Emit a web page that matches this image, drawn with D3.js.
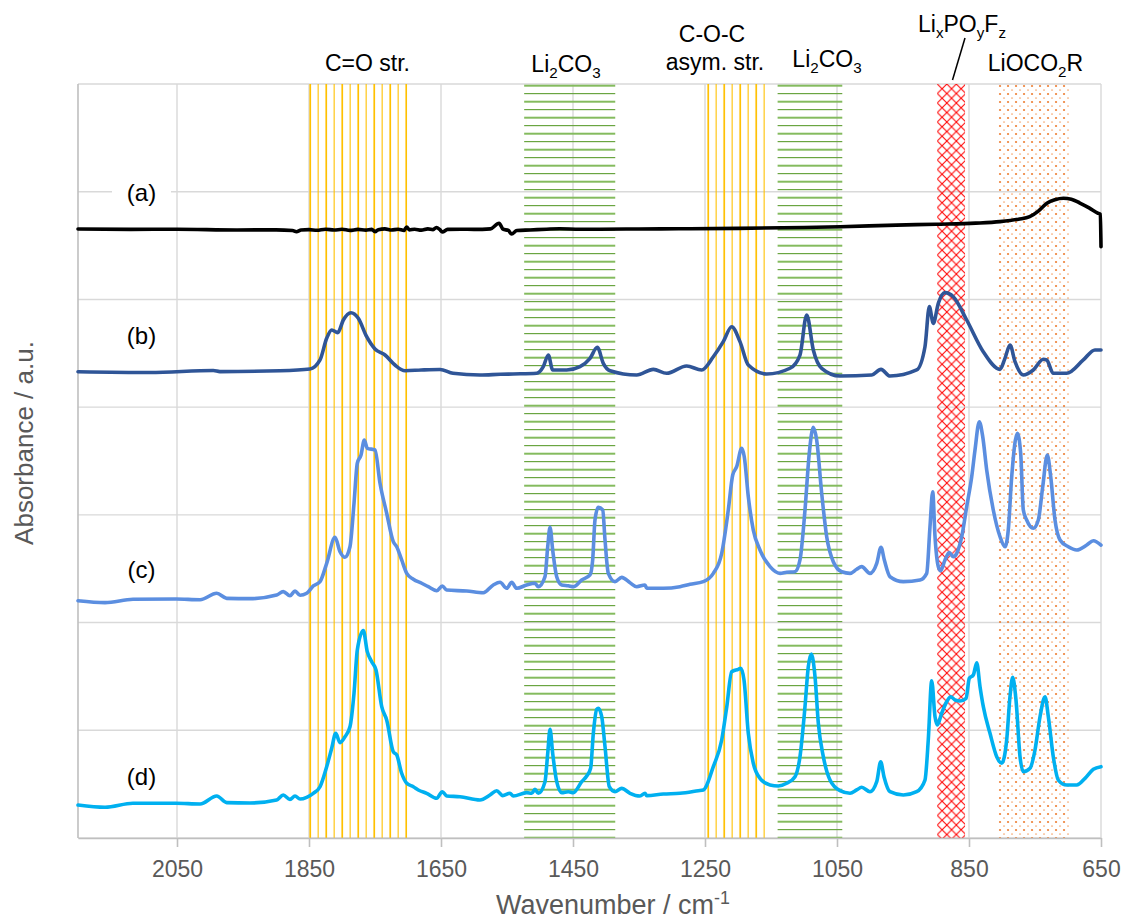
<!DOCTYPE html>
<html>
<head>
<meta charset="utf-8">
<script src="https://cdn.jsdelivr.net/npm/d3@7"></script>
<style>
  body { margin: 0; background: #fff; }
  text { font-family: "Liberation Sans", Arial, Helvetica, sans-serif; }
</style>
</head>
<body>
<div id="chart"></div>
<script>
// ---- data (wavenumber / cm-1, absorbance in grid units) ----
const xTicks = [2050, 1850, 1650, 1450, 1250, 1050, 850, 650];
const yGrid = [0, 1, 2, 3, 4, 5, 6, 7];
const seriesNames = ["(a)", "(b)", "(c)", "(d)"];
const seriesColors = ["#000000", "#2f5597", "#5b8ee0", "#00b0f0"];

const spectrumA = [[2200,5.654],[2120,5.650],[2050,5.652],[1960,5.645],[1900,5.646],[1875,5.640],[1869,5.629],[1862,5.645],
  [1850,5.648],[1838,5.642],[1825,5.652],[1812,5.644],[1800,5.651],[1788,5.641],[1776,5.650],[1764,5.643],[1755,5.650],
  [1750,5.628],[1745,5.648],[1735,5.655],[1725,5.644],[1715,5.652],[1706,5.641],[1702,5.673],[1698,5.645],[1690,5.652],
  [1680,5.643],[1670,5.655],[1662,5.648],[1657,5.668],[1652,5.650],[1648,5.626],[1640,5.650],[1620,5.652],[1600,5.650],
  [1575,5.655],[1562,5.707],[1556,5.652],[1548,5.640],[1543,5.608],[1535,5.640],[1515,5.645],[1490,5.652],[1470,5.656],
  [1440,5.652],[1410,5.652],[1350,5.654],[1290,5.656],[1200,5.660],[1100,5.668],[1045,5.675],[960,5.690],[900,5.698],
  [840,5.708],[803,5.722],[775,5.745],[758,5.768],[745,5.820],[732,5.893],[720,5.925],[707,5.939],[695,5.930],
  [682,5.895],[668,5.850],[655,5.802],[651,5.790],[650,5.490]];

const spectrumB = [[2200,4.329],[2091,4.322],[1995,4.340],[1985,4.330],[1894,4.338],[1848.5,4.354],[1833.3,4.438],
  [1823.2,4.639],[1815.6,4.716],[1806.5,4.691],[1798,4.809],[1786.4,4.877],[1775.3,4.825],[1762.6,4.654],[1750,4.540],
  [1734.8,4.484],[1719.7,4.391],[1704.5,4.338],[1680,4.345],[1651.5,4.350],[1631.8,4.314],[1590.9,4.298],[1560,4.305],
  [1540.9,4.308],[1505,4.314],[1495,4.376],[1487.4,4.484],[1480.8,4.345],[1459.6,4.345],[1439.4,4.376],[1424.2,4.453],
  [1413.2,4.556],[1404.1,4.407],[1393.9,4.338],[1353.5,4.298],[1328.3,4.351],[1308.1,4.314],[1277.8,4.382],[1255,4.345],
  [1237.4,4.468],[1222.3,4.608],[1209.6,4.747],[1197,4.608],[1184.4,4.391],[1156.5,4.308],[1121.2,4.361],[1106.1,4.484],
  [1095.9,4.856],[1085.9,4.531],[1073.2,4.361],[1045.5,4.289],[997.4,4.298],[983.3,4.351],[969.7,4.289],[929.3,4.345],
  [916.7,4.561],[910.1,4.933],[904.1,4.778],[896.5,4.964],[886.4,5.063],[873.8,5.025],[853.5,4.809],[828.4,4.515],
  [803,4.351],[795.5,4.453],[787.9,4.577],[780.3,4.422],[767.8,4.298],[752.6,4.345],[737.4,4.444],[732.3,4.438],
  [722.3,4.314],[702,4.314],[676.8,4.438],[659.1,4.531],[650,4.531]];

const spectrumC = [[2200,2.203],[2159,2.185],[2116.7,2.216],[2051.5,2.219],[2015,2.212],[1989.8,2.272],[1974.7,2.225],
  [1939.4,2.222],[1899,2.256],[1889,2.287],[1878.8,2.249],[1871.2,2.293],[1863.6,2.253],[1853.5,2.272],[1843.5,2.340],
  [1833.3,2.380],[1823.2,2.550],[1810.6,2.792],[1803,2.658],[1795.5,2.606],[1787.9,2.704],[1781.8,3.107],[1776.8,3.479],
  [1771.2,3.556],[1766.2,3.695],[1761.7,3.618],[1750,3.602],[1742.4,3.293],[1732.3,3.015],[1722.3,2.751],[1717.1,2.704],
  [1709.6,2.581],[1701.9,2.457],[1691.9,2.402],[1679.2,2.365],[1669.2,2.333],[1656.5,2.296],[1648,2.340],[1641.4,2.302],
  [1611.1,2.293],[1585.9,2.277],[1570.8,2.349],[1560.6,2.374],[1550.5,2.318],[1542.9,2.374],[1535.3,2.318],[1520.2,2.349],
  [1507.6,2.365],[1502.6,2.333],[1492.4,2.426],[1488.3,2.704],[1484.8,2.885],[1480.8,2.674],[1474.7,2.426],[1467.1,2.349],
  [1457.1,2.342],[1449.5,2.333],[1436.8,2.395],[1424.2,2.442],[1420.2,2.581],[1416.7,2.952],[1411.7,3.070],[1405,3.045],
  [1401.5,2.767],[1396.5,2.457],[1386.4,2.380],[1376.2,2.420],[1363.6,2.370],[1353.5,2.333],[1340.9,2.349],[1338.3,2.318],
  [1313.2,2.318],[1287.9,2.333],[1272.7,2.355],[1252.6,2.380],[1237.4,2.457],[1224.7,2.643],[1214.7,3.045],[1208,3.370],
  [1202,3.447],[1194.4,3.618],[1190.5,3.540],[1184.4,3.169],[1176.8,2.859],[1166.7,2.674],[1151.5,2.519],[1136.4,2.457],
  [1126.2,2.467],[1113.6,2.472],[1106.1,2.581],[1098.5,3.045],[1092,3.572],[1085.9,3.813],[1080.8,3.695],[1073.2,3.200],
  [1065.6,2.797],[1055.6,2.565],[1042.9,2.472],[1030.3,2.457],[1020.2,2.495],[1012.6,2.519],[1000,2.457],[989.8,2.550],
  [983.3,2.699],[978.3,2.581],[969.7,2.426],[949.5,2.380],[924.2,2.395],[914.1,2.457],[909.1,2.890],[905,3.215],
  [901.5,2.797],[896.5,2.519],[892.9,2.482],[886.4,2.581],[879.8,2.649],[873.8,2.612],[868.6,2.643],[861,2.797],
  [853.5,3.076],[845.9,3.354],[840.9,3.602],[834.4,3.865],[829.2,3.726],[823.2,3.417],[813.2,3.045],[803,2.797],
  [795.5,2.704],[790.5,2.859],[785.3,3.354],[776.8,3.757],[771.7,3.572],[767.7,3.045],[762.6,2.952],[752.6,2.875],
  [745,2.952],[738.3,3.261],[731.4,3.556],[726.2,3.354],[719.7,2.952],[712.1,2.767],[699.5,2.704],[686.8,2.674],
  [671.6,2.720],[661.6,2.760],[650,2.720]];

const spectrumD = [[2200,0.306],[2159,0.285],[2116.7,0.322],[2051.5,0.322],[2015,0.316],[1989.8,0.390],[1974.7,0.328],
  [1939.4,0.325],[1899,0.353],[1889,0.399],[1878.8,0.359],[1871.2,0.390],[1863.6,0.362],[1853.5,0.378],[1843.5,0.415],
  [1833.3,0.476],[1823.2,0.662],[1815.6,0.833],[1809.5,0.972],[1803,0.885],[1795.5,0.940],[1787.9,1.033],[1781.8,1.343],
  [1776.8,1.745],[1767.7,1.925],[1761.7,1.730],[1755,1.637],[1748.5,1.560],[1739.8,1.219],[1732.3,1.096],[1722.3,0.801],
  [1717.1,0.771],[1709.6,0.601],[1701.9,0.508],[1691.9,0.476],[1684.4,0.446],[1671.7,0.415],[1656.5,0.369],[1648,0.430],
  [1641.4,0.390],[1621.2,0.383],[1590.9,0.353],[1575.8,0.399],[1565.6,0.439],[1556.5,0.393],[1545.5,0.415],[1540.5,0.390],
  [1520.2,0.421],[1512.6,0.415],[1507.6,0.452],[1502.6,0.415],[1492.4,0.523],[1488.3,0.786],[1484.8,1.009],[1480.8,0.786],
  [1474.7,0.523],[1467.1,0.421],[1457.1,0.430],[1449.5,0.421],[1436.8,0.523],[1429.2,0.576],[1423.3,0.647],[1419.2,0.972],
  [1414.1,1.195],[1411.7,1.204],[1406.5,1.126],[1401.5,0.848],[1395,0.476],[1386.4,0.430],[1376.2,0.461],[1363.6,0.415],
  [1348.5,0.390],[1340.9,0.415],[1338.3,0.393],[1313.2,0.408],[1287.9,0.415],[1260.2,0.439],[1252.6,0.446],[1237.4,0.662],
  [1224.7,0.910],[1217,1.219],[1209.6,1.544],[1199.5,1.566],[1195.9,1.575],[1190.9,1.467],[1184.4,0.972],[1176.8,0.694],
  [1166.7,0.554],[1151.5,0.492],[1138.9,0.483],[1126.2,0.508],[1113.6,0.569],[1106.1,0.755],[1098.5,1.219],[1093.5,1.590],
  [1089,1.708],[1083.3,1.497],[1078.3,1.065],[1070.7,0.755],[1060.6,0.538],[1045.5,0.439],[1030.3,0.415],[1020.2,0.446],
  [1012.6,0.471],[1000,0.430],[989.8,0.523],[983.8,0.708],[978.8,0.569],[969.7,0.430],[949.5,0.399],[929.3,0.430],
  [916.7,0.538],[911.7,0.910],[906.5,1.460],[901.5,1.126],[898,1.049],[891.4,1.158],[883.8,1.265],[877.7,1.312],
  [871.2,1.281],[863.6,1.272],[854.5,1.297],[849.5,1.483],[843.5,1.513],[838.3,1.627],[833.3,1.405],[828.3,1.219],
  [818.2,0.972],[808,0.755],[800.4,0.694],[792.9,0.910],[787.9,1.312],[783.8,1.492],[778.8,1.281],[772.7,0.755],
  [767.7,0.616],[757.6,0.647],[750,0.817],[742.4,1.126],[734.8,1.312],[729.8,1.126],[722.3,0.755],[714.7,0.538],
  [702,0.492],[686.8,0.492],[674.2,0.554],[661.6,0.638],[650,0.662]];

const spectra = [spectrumA, spectrumB, spectrumC, spectrumD];

// highlighted bands (wavenumber from, to) and their fill pattern kind
const bandRanges = [[1850, 1701], [1524, 1386], [1247, 1155], [1140, 1042], [898, 856], [806, 698]];
const bandFills = ["vlines", "hlines", "vlines", "hlines", "cross", "dots"];

// ---- layout ----
const W = 1125, H = 921;
const plot = { left: 78, right: 1101, top: 84, bottom: 838 };

const x = d3.scaleLinear().domain([2200, 650]).range([plot.left, plot.right]);
const y = d3.scaleLinear().domain([0, 7]).range([plot.bottom, plot.top]);

const svg = d3.select("#chart").append("svg")
  .attr("width", W).attr("height", H);

const defs = svg.append("defs");

// pattern builders
function makePattern(id, kind, x0) {
  if (kind === "vlines") {
    const p = defs.append("pattern").attr("id", id).attr("patternUnits", "userSpaceOnUse")
      .attr("x", x0).attr("y", 0).attr("width", 16).attr("height", 10);
    p.append("rect").attr("x", 0.4).attr("y", 0).attr("width", 1.7).attr("height", 10).attr("fill", "#ffc000");
    p.append("rect").attr("x", 8.6).attr("y", 0).attr("width", 1.1).attr("height", 10).attr("fill", "#ffc000");
  } else if (kind === "hlines") {
    const p = defs.append("pattern").attr("id", id).attr("patternUnits", "userSpaceOnUse")
      .attr("x", x0).attr("y", plot.top).attr("width", 10).attr("height", 16);
    p.append("rect").attr("x", 0).attr("y", 0.7).attr("width", 10).attr("height", 2).attr("fill", "#84bb5e");
    p.append("rect").attr("x", 0).attr("y", 9.0).attr("width", 10).attr("height", 1.2).attr("fill", "#6aa541");
  } else if (kind === "cross") {
    const p = defs.append("pattern").attr("id", id).attr("patternUnits", "userSpaceOnUse")
      .attr("x", x0).attr("y", plot.top).attr("width", 9.5).attr("height", 9.5);
    p.append("path").attr("d", "M0,0L9.5,9.5M9.5,0L0,9.5")
      .attr("stroke", "#ff0000").attr("stroke-width", 1.05).attr("fill", "none");
  } else if (kind === "dots") {
    const p = defs.append("pattern").attr("id", id).attr("patternUnits", "userSpaceOnUse")
      .attr("x", x0).attr("y", plot.top).attr("width", 8).attr("height", 8);
    p.append("circle").attr("cx", 2).attr("cy", 2).attr("r", 1.1).attr("fill", "#ed7d31");
    p.append("circle").attr("cx", 6).attr("cy", 6).attr("r", 0.85).attr("fill", "#f4a46a");
  }
}

// gridlines
const grid = svg.append("g").attr("class", "grid");
grid.selectAll("line.v").data(xTicks).enter().append("line")
  .attr("class", "v")
  .attr("x1", d => x(d)).attr("x2", d => x(d))
  .attr("y1", plot.top).attr("y2", plot.bottom)
  .attr("stroke", "#d9d9d9").attr("stroke-width", 1.4);
grid.selectAll("line.h").data(yGrid).enter().append("line")
  .attr("class", "h")
  .attr("x1", plot.left).attr("x2", plot.right)
  .attr("y1", d => y(d)).attr("y2", d => y(d))
  .attr("stroke", "#d9d9d9").attr("stroke-width", 1.4);

// bands
const bands = svg.append("g").attr("class", "bands");
bandRanges.forEach((r, i) => {
  const x0 = x(r[0]), x1 = x(r[1]);
  makePattern("pat" + i, bandFills[i], x0);
  bands.append("rect")
    .attr("x", x0).attr("y", plot.top)
    .attr("width", x1 - x0).attr("height", plot.bottom - plot.top)
    .attr("fill", "url(#pat" + i + ")");
});

// axes
svg.append("line")
  .attr("x1", plot.left).attr("x2", plot.left)
  .attr("y1", plot.top).attr("y2", plot.bottom)
  .attr("stroke", "#bfbfbf").attr("stroke-width", 1.6);

const xAxis = svg.append("g")
  .attr("transform", "translate(0," + plot.bottom + ")")
  .call(d3.axisBottom(x).tickValues(xTicks).tickFormat(d3.format("d"))
    .tickSize(9).tickSizeOuter(0).tickPadding(14));
xAxis.select(".domain").attr("stroke", "#bfbfbf").attr("stroke-width", 1.6);
xAxis.selectAll(".tick line").attr("stroke", "#bfbfbf").attr("stroke-width", 1.6);
xAxis.selectAll(".tick text")
  .attr("fill", "#595959")
  .style("font-size", "23px")
  .style("font-family", "'Liberation Sans', Arial, sans-serif");

// spectra
const line = d3.line()
  .x(d => x(d[0]))
  .y(d => y(d[1]))
  .curve(d3.curveMonotoneX);

svg.append("g").attr("class", "spectra")
  .selectAll("path").data(spectra).enter().append("path")
  .attr("d", line)
  .attr("fill", "none")
  .attr("stroke", (d, i) => seriesColors[i])
  .attr("stroke-width", 3.6)
  .attr("stroke-linejoin", "round")
  .attr("stroke-linecap", "round");

// series labels
const labelY = [201, 344, 578, 785];
const labels = svg.append("g").attr("class", "series-labels");
labels.append("rect")
  .attr("x", 112).attr("y", 180).attr("width", 59).attr("height", 27)
  .attr("fill", "#fff");
labels.selectAll("text").data(seriesNames).enter().append("text")
  .attr("x", 141.5).attr("y", (d, i) => labelY[i])
  .attr("text-anchor", "middle")
  .style("font-size", "24px")
  .attr("fill", "#000")
  .text(d => d);

// rich text helper (normal / sub / sup pieces)
function richText(parent, parts, cx, baseY, size, fill) {
  const t = parent.append("text")
    .attr("x", cx).attr("y", baseY)
    .attr("text-anchor", "middle")
    .style("font-size", size + "px")
    .attr("fill", fill);
  let shift = 0;
  parts.forEach(p => {
    const target = p[1] === "sub" ? size * 0.28 : p[1] === "sup" ? -size * 0.38 : 0;
    t.append("tspan")
      .attr("dy", target - shift)
      .style("font-size", p[1] ? (size * 0.66) + "px" : size + "px")
      .text(p[0]);
    shift = target;
  });
  return t;
}

// band annotations
const notes = svg.append("g").attr("class", "notes");
richText(notes, [["C=O str.", ""]], 367.5, 71, 23, "#000");
richText(notes, [["Li", ""], ["2", "sub"], ["CO", ""], ["3", "sub"]], 566, 71.5, 23, "#000");
richText(notes, [["C-O-C", ""]], 712, 41.5, 23, "#000");
richText(notes, [["asym. str.", ""]], 715, 70, 23, "#000");
richText(notes, [["Li", ""], ["2", "sub"], ["CO", ""], ["3", "sub"]], 827, 66.5, 23, "#000");
richText(notes, [["Li", ""], ["x", "sub"], ["PO", ""], ["y", "sub"], ["F", ""], ["z", "sub"]], 962, 31.5, 23, "#000");
richText(notes, [["LiOCO", ""], ["2", "sub"], ["R", ""]], 1035.5, 71, 23, "#000");
notes.append("line")
  .attr("x1", 965).attr("y1", 38).attr("x2", 952.5).attr("y2", 80)
  .attr("stroke", "#000").attr("stroke-width", 1.5);

// axis titles
richText(svg, [["Wavenumber / cm", ""], ["-1", "sup"]], 613, 914, 27, "#595959");
svg.append("text")
  .attr("transform", "translate(33,443) rotate(-90)")
  .attr("text-anchor", "middle")
  .style("font-size", "26px")
  .attr("fill", "#595959")
  .text("Absorbance / a.u.");
</script>
</body>
</html>
